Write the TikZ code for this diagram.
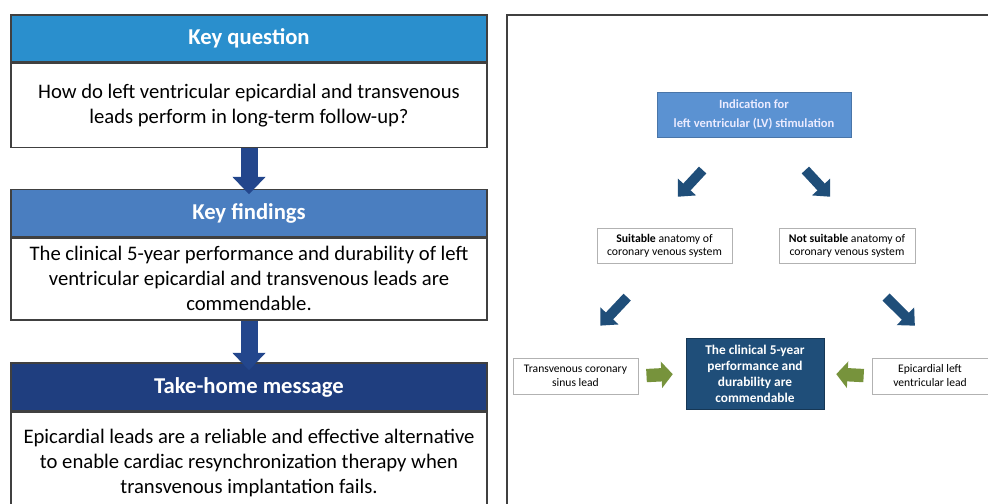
\documentclass[tikz,border=0pt]{standalone}
\usepackage{fontspec}
\setmainfont{Carlito}
\usetikzlibrary{positioning,arrows.meta}
\definecolor{qblue}{HTML}{2A8FCD}
\definecolor{fblue}{HTML}{4A7EC0}
\definecolor{tnavy}{HTML}{1F3E7F}
\definecolor{arrownavy}{HTML}{23468C}
\definecolor{indblue}{HTML}{5B92D2}
\definecolor{darkteal}{HTML}{1F4E79}
\definecolor{leadgreen}{HTML}{77933C}
\definecolor{frame}{HTML}{404040}

\begin{document}
\begin{tikzpicture}[x=0.75pt, y=-0.75pt,
  every node/.style={align=center, inner sep=2pt},
  headbox/.style={draw=frame, line width=1.1pt, text=white, font=\fontsize{17}{20}\selectfont\bfseries, minimum width=357pt, minimum height=35pt},
  textbox/.style={draw=frame, line width=1.1pt, fill=white, font=\fontsize{15.5}{18.75}\selectfont, minimum width=357pt},
  downarrow/.style={draw=arrownavy, line width=12.75pt, -{Triangle[width=24pt,length=13pt]}},
  smallbox/.style={draw=gray!60, line width=0.5pt, fill=white, font=\fontsize{8.8}{9.75}\selectfont, minimum height=26pt},
  leadbox/.style={draw=gray!60, line width=0.5pt, fill=white, font=\fontsize{8.7}{10.5}\selectfont, minimum height=27pt},
  bluearrow/.style={draw=darkteal, line width=7.5pt, -{Triangle[width=18pt,length=10pt]}},
  greenarrow/.style={draw=leadgreen, line width=10pt, -{Triangle[width=19.5pt,length=8.5pt]}}]

  \path[use as bounding box, clip] (0,0) rectangle (988,503);

  % left column
  \node[headbox, fill=qblue] (qh) at (249,38.5) {Key question};
  \node[textbox, below=0pt of qh, minimum height=63pt] (qb) {How do left ventricular epicardial and transvenous\\leads perform in long-term follow-up?};
  \node[headbox, fill=fblue] (fh) at (249,213) {Key findings};
  \node[textbox, below=0pt of fh, minimum height=61.5pt] (fb) {The clinical 5-year performance and durability of left\\ventricular epicardial and transvenous leads are\\commendable.};
  \node[headbox, fill=tnavy, minimum height=36pt] (th) at (249,387) {Take-home message};
  \node[textbox, below=0pt of th, minimum height=76.5pt] (tb) {Epicardial leads are a reliable and effective alternative\\to enable cardiac resynchronization therapy when\\transvenous implantation fails.};

  \draw[downarrow, shorten >=-4pt] (qb.south) -- (fh.north);
  \draw[downarrow, shorten >=-6pt] (fb.south) -- (th.north);

  % right panel
  \draw[frame, line width=1.3pt] (507,15) rectangle (1000,530);

  \node[fill=indblue, draw=indblue!80!black, line width=0.4pt, text=white!92!blue, font=\fontsize{9.4}{14}\selectfont\bfseries, minimum width=145.5pt, minimum height=33.75pt] (ind) at (754,114.5) {Indication for\\left ventricular (LV) stimulation};
  \node[smallbox, minimum width=101pt] (suit) at (664.5,245.5) {\textbf{Suitable} anatomy of\\coronary venous system};
  \node[smallbox, minimum width=102pt] (nsuit) at (847,245.5) {\textbf{Not suitable} anatomy of\\coronary venous system};
  \node[leadbox, minimum width=94pt] (trans) at (575.5,376) {Transvenous coronary\\sinus lead};
  \node[fill=darkteal, draw=darkteal!70!black, line width=0.4pt, text=white, font=\fontsize{10}{12}\selectfont\bfseries, minimum width=103.5pt, minimum height=53pt] (cen) at (755,373.5) {The clinical 5-year\\performance and\\durability are\\commendable};
  \node[leadbox, minimum width=87pt] (epi) at (930,376) {Epicardial left\\ventricular lead};

  \draw[bluearrow, shorten <=33.5pt, shorten >=31.8pt] ([xshift=-15.75pt]ind.south) -- ([xshift=-11.6pt]suit.north);
  \draw[bluearrow, shorten <=33.5pt, shorten >=31.8pt] ([xshift=15.75pt]ind.south) -- ([xshift=9pt]nsuit.north);
  \draw[bluearrow, shorten <=35pt, shorten >=33pt] ([xshift=-4pt]suit.south) -- ([xshift=-4pt]trans.north);
  \draw[bluearrow, shorten <=36pt, shorten >=34pt] ([xshift=3.75pt]nsuit.south) -- ([xshift=12.75pt]epi.north);

  \draw[greenarrow, shorten <=6pt, shorten >=9.75pt] (trans.east) -- (cen.west);
  \draw[greenarrow, shorten <=6pt, shorten >=9pt] (epi.west) -- (cen.east);
\end{tikzpicture}
\end{document}
